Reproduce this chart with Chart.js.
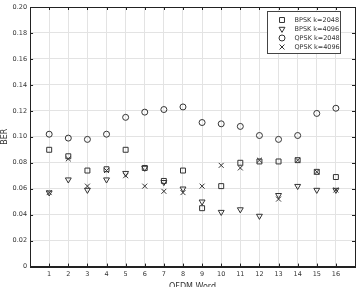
<!DOCTYPE html>
<html>
<head>
<meta charset="utf-8">
<script src="https://cdn.jsdelivr.net/npm/chart.js@4/dist/chart.umd.min.js"></script>
<style>
  html, body { margin: 0; padding: 0; background: #fff; overflow: hidden; }
  #wrap { position: relative; width: 360px; height: 292px; }
</style>
</head>
<body>
<div id="wrap"><canvas id="grafico"></canvas></div>
<script>
// OFDM word index and BER per series
const palavras = [1, 2, 3, 4, 5, 6, 7, 8, 9, 10, 11, 12, 13, 14, 15, 16];
const bpsk2048 = [0.090, 0.085, 0.074, 0.075, 0.090, 0.076, 0.066, 0.074, 0.045, 0.062, 0.080, 0.081, 0.081, 0.082, 0.073, 0.069];
const bpsk4096 = [0.057, 0.067, 0.059, 0.067, 0.072, 0.076, 0.065, 0.060, 0.050, 0.042, 0.044, 0.039, 0.055, 0.062, 0.059, 0.059];
const qpsk2048 = [0.102, 0.099, 0.098, 0.102, 0.115, 0.119, 0.121, 0.123, 0.111, 0.110, 0.108, 0.101, 0.098, 0.101, 0.118, 0.122];
const qpsk4096 = [0.057, 0.083, 0.062, 0.074, 0.070, 0.062, 0.058, 0.057, 0.062, 0.078, 0.076, 0.082, 0.052, 0.082, 0.073, 0.059];
const yTicks = [0, 0.02, 0.04, 0.06, 0.08, 0.10, 0.12, 0.14, 0.16, 0.18, 0.20];

const corMarca = '#333';
const fonte = 'DejaVu Sans';
const raios = { rect: 3.5, triangle: 3.4, circle: 3, crossRot: 3.5 };

const pontos = vals => palavras.map((p, i) => ({ x: p, y: vals[i] }));

const serie = (label, vals, estilo, rot) => ({
  label,
  data: pontos(vals),
  pointStyle: estilo,
  rotation: rot || 0,
  pointRadius: raios[estilo],
  borderColor: corMarca,
  backgroundColor: 'rgba(0,0,0,0)',
  borderWidth: 1,
  showLine: false
});

// moldura, ticks internos e legenda em caixa
const molduraLegenda = {
  id: 'molduraLegenda',
  afterDraw(chart) {
    const { ctx, chartArea: a, scales } = chart;
    ctx.save();
    ctx.strokeStyle = '#222';
    ctx.lineWidth = 1;
    ctx.beginPath();
    scales.x.ticks.forEach(t => {
      const px = Math.round(scales.x.getPixelForValue(t.value)) + 0.5;
      ctx.moveTo(px, a.bottom); ctx.lineTo(px, a.bottom - 3);
      ctx.moveTo(px, a.top); ctx.lineTo(px, a.top + 3);
    });
    scales.y.ticks.forEach(t => {
      const py = Math.round(scales.y.getPixelForValue(t.value)) + 0.5;
      ctx.moveTo(a.left, py); ctx.lineTo(a.left + 3, py);
      ctx.moveTo(a.right, py); ctx.lineTo(a.right - 3, py);
    });
    ctx.stroke();
    ctx.strokeRect(Math.round(a.left) + 0.5, Math.round(a.top) + 0.5, Math.round(a.right - a.left), Math.round(a.bottom - a.top));

    // legenda
    const bx = 267.5, by = 11.5, bw = 73, bh = 42;
    ctx.fillStyle = '#fff';
    ctx.fillRect(bx, by, bw, bh);
    ctx.strokeStyle = '#444';
    ctx.strokeRect(bx, by, bw, bh);
    ctx.font = '6.5px "' + fonte + '"';
    ctx.textBaseline = 'middle';
    chart.data.datasets.forEach((ds, i) => {
      const yy = by + 8.5 + i * 9;
      ctx.strokeStyle = corMarca;
      ctx.fillStyle = 'rgba(0,0,0,0)';
      ctx.lineWidth = 1;
      Chart.helpers.drawPoint(ctx, {
        pointStyle: ds.pointStyle,
        rotation: ds.rotation,
        radius: raios[ds.pointStyle],
        borderWidth: 1
      }, bx + 14.5, yy);
      ctx.fillStyle = '#333';
      ctx.fillText(ds.label, bx + 27, yy);
    });
    ctx.restore();
  }
};

new Chart(document.getElementById('grafico'), {
  type: 'scatter',
  data: {
    datasets: [
      serie('BPSK k=2048', bpsk2048, 'rect'),
      serie('BPSK k=4096', bpsk4096, 'triangle', 180),
      serie('QPSK k=2048', qpsk2048, 'circle'),
      serie('QPSK k=4096', qpsk4096, 'crossRot')
    ]
  },
  options: {
    responsive: true,
    maintainAspectRatio: false,
    animation: false,
    layout: { padding: { top: 7, right: 2, left: 0, bottom: 0 } },
    plugins: { legend: { display: false }, tooltip: { enabled: false } },
    scales: {
      x: {
        type: 'linear',
        min: 0,
        max: 17,
        afterBuildTicks: ax => { ax.ticks = palavras.map(v => ({ value: v })); },
        ticks: { color: '#333', font: { family: fonte, size: 6.5 }, padding: 4, callback: v => String(v) },
        grid: { color: '#e3e3e3', drawTicks: false },
        border: { color: '#222', width: 1 },
        title: { display: true, text: 'OFDM Word', color: '#333', font: { family: fonte, size: 8 }, padding: { top: 0, bottom: 0 } }
      },
      y: {
        type: 'linear',
        min: 0,
        max: 0.2,
        afterBuildTicks: ax => { ax.ticks = yTicks.map(v => ({ value: v })); },
        ticks: { color: '#333', font: { family: fonte, size: 6.5 }, padding: 3, callback: v => v === 0 ? '0' : v.toFixed(2) },
        grid: { color: '#e3e3e3', drawTicks: false },
        border: { color: '#222', width: 1 },
        title: { display: true, text: 'BER', color: '#333', font: { family: fonte, size: 8 }, padding: { top: 0, bottom: 0 } }
      }
    }
  },
  plugins: [molduraLegenda]
});
</script>
</body>
</html>
